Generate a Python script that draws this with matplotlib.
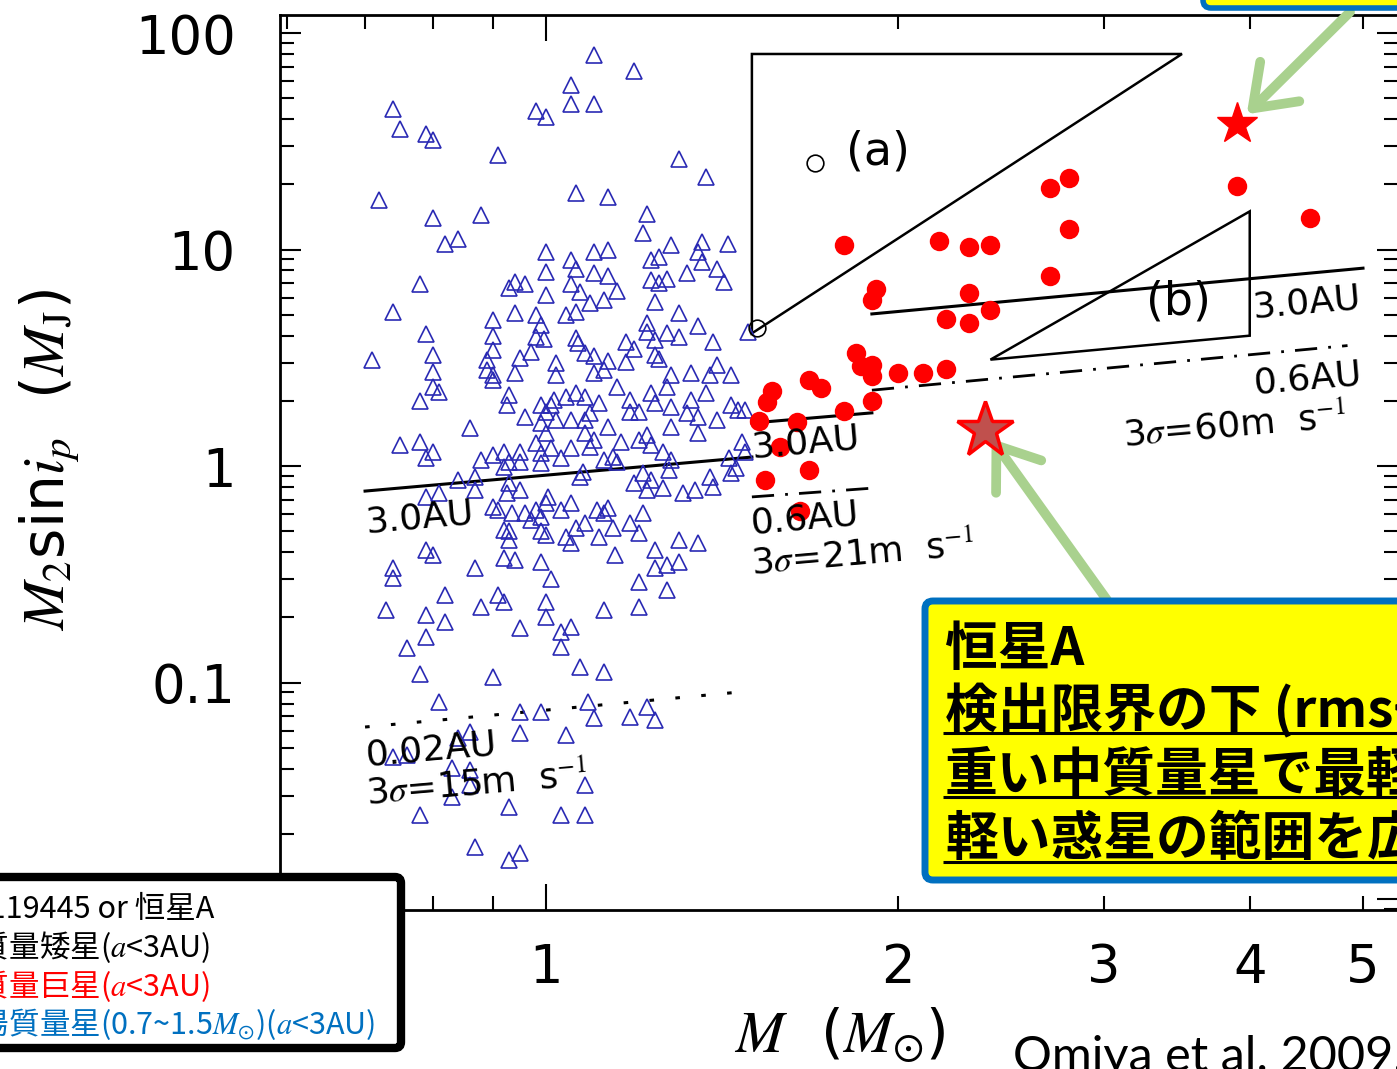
import matplotlib
matplotlib.use('Agg')
import matplotlib.pyplot as plt
from matplotlib.patches import FancyBboxPatch, Polygon
from matplotlib.ticker import FixedLocator, FixedFormatter, LogLocator, NullFormatter

plt.rcParams['font.family'] = ['DejaVu Sans', 'Noto Sans CJK JP']
plt.rcParams['mathtext.fontset'] = 'stix'

# 太陽質量星 (0.7-1.5 Msun), a<3AU : stellar mass [Msun], M2 sin i [MJ]
sun_mass = [
    1.10, 1.19, 1.05, 0.98, 1.00, 1.05, 1.10, 0.74, 0.75, 0.79,
    0.80, 0.91, 1.30, 1.37, 0.72, 1.06, 1.13, 0.80, 0.88, 1.22,
    1.21, 0.82, 0.84, 0.78, 0.74, 0.79, 0.71, 0.80, 0.80, 1.00,
    1.05, 1.10, 1.13, 1.28, 1.36, 1.43, 1.35, 1.23, 1.25, 1.36,
    1.40, 1.42, 1.32, 1.00, 1.06, 1.10, 1.13, 0.94, 0.96, 0.93,
    1.05, 1.07, 1.15, 1.09, 1.12, 1.23, 1.25, 1.27, 1.24, 1.00,
    0.94, 0.98, 0.99, 1.04, 1.06, 0.90, 0.90, 0.90, 0.89, 0.89,
    0.90, 0.94, 0.95, 0.97, 0.98, 0.995, 1.02, 1.02, 1.06, 1.065,
    1.08, 1.10, 1.13, 1.12, 1.10, 1.17, 1.19, 1.17, 1.22, 1.22,
    1.24, 1.27, 1.30, 1.30, 1.35, 1.39, 1.24, 1.25, 1.40, 1.28,
    1.33, 1.38, 1.44, 1.49,
    0.80, 0.81, 0.78, 0.90, 0.75, 0.78, 0.79, 0.80, 0.86, 0.93,
    0.925, 0.96, 0.99, 1.00, 1.01, 1.015, 1.02, 0.99, 1.00, 1.05,
    1.04, 1.06, 1.08, 1.11, 1.09, 1.08, 1.13, 1.15, 1.18, 1.18,
    1.20, 1.24, 1.23, 1.27, 1.28, 1.28, 1.33, 1.32, 1.35, 1.37,
    1.40, 1.44, 1.46, 1.35, 1.47, 1.16, 1.20, 1.22, 1.23, 1.26,
    1.28, 1.275, 1.21, 1.23, 1.19, 1.22, 1.26, 1.31, 1.34, 1.39,
    1.38, 1.44, 1.455, 1.435, 1.08, 1.10, 1.09, 1.12, 1.14, 1.15,
    1.07, 1.075, 1.05, 1.03, 1.01, 0.99, 0.99, 0.98, 0.95, 0.95,
    0.93, 0.92, 0.92, 0.90, 0.88, 0.87, 0.87, 0.84, 0.81, 0.79,
    0.93, 0.95, 0.925, 0.90, 0.91, 0.935, 0.96, 0.98, 0.99, 1.00,
    1.003, 0.97, 0.99, 1.00, 0.93, 0.93, 0.92, 1.03, 1.05, 1.06,
    1.04, 1.05, 1.08, 1.105, 1.13, 1.12, 1.11, 1.14, 1.18, 1.20,
    1.21, 1.24, 1.30, 1.35, 1.24, 1.27, 1.30, 1.20, 1.27, 1.20,
    1.12, 1.145, 0.99, 1.01, 0.94, 0.92, 0.87, 0.82, 0.91, 0.92,
    0.88, 1.00, 1.00, 0.95, 1.03, 1.05, 1.03, 0.79, 0.80, 0.74,
    0.74, 0.73, 0.79, 0.82, 0.79, 0.76, 0.78, 0.90, 1.07, 1.12,
    0.81, 0.95, 0.99, 1.085, 1.10, 1.18, 1.22, 1.24, 0.95, 1.04,
    0.86, 0.84, 0.74, 0.76, 0.83, 0.86, 0.86, 0.83, 1.08, 0.93,
    0.78, 1.03, 1.08, 0.87, 0.93, 0.95, 1.48, 1.48,
]
sun_msini = [
    79.0, 67.0, 57.5, 43.7, 41.0, 47.0, 47.0, 44.6, 36.0, 34.0,
    32.0, 27.3, 26.2, 21.6, 16.9, 18.2, 17.5, 14.0, 14.4, 14.6,
    11.9, 10.6, 11.2, 6.93, 5.14, 4.07, 3.09, 3.26, 2.72, 9.74,
    8.94, 9.74, 9.95, 10.5, 10.8, 10.6, 9.74, 8.94, 9.23, 8.75,
    8.12, 7.08, 7.80, 7.87, 8.12, 7.80, 7.56, 7.08, 6.93, 6.64,
    6.93, 6.37, 6.43, 5.67, 5.85, 7.23, 7.01, 7.31, 5.73, 6.17,
    5.09, 4.98, 4.48, 4.98, 5.14, 4.72, 3.98, 3.43, 3.09, 2.78,
    2.63, 2.69, 3.15, 3.36, 3.94, 3.85, 2.99, 2.63, 3.90, 3.70,
    3.33, 3.22, 3.06, 2.78, 2.69, 3.74, 3.47, 3.02, 4.58, 4.16,
    3.82, 4.11, 5.09, 3.94, 4.43, 3.74, 3.26, 3.12, 2.93, 2.63,
    2.69, 2.63, 2.63, 4.16,
    2.32, 2.20, 1.99, 2.50, 1.25, 1.29, 1.09, 1.16, 1.50, 2.13,
    1.91, 1.68, 1.91, 1.78, 1.91, 2.02, 1.63, 1.58, 1.42, 1.63,
    2.08, 2.17, 2.08, 1.95, 1.76, 1.63, 1.51, 2.32, 2.02, 1.78,
    1.78, 1.95, 2.17, 2.32, 1.87, 1.51, 2.02, 1.76, 1.68, 2.17,
    1.63, 1.91, 1.81, 1.42, 1.29, 1.29, 1.32, 1.39, 1.25, 1.16,
    1.07, 0.958, 0.93, 0.862, 0.835, 0.775, 0.79, 0.75, 0.775, 0.80,
    0.89, 0.93, 0.98, 1.09, 1.42, 1.32, 1.22, 1.07, 1.10, 1.04,
    0.89, 0.94, 1.21, 1.09, 1.21, 1.15, 1.03, 1.28, 1.16, 1.04,
    1.04, 1.16, 0.99, 1.12, 1.07, 0.89, 0.775, 0.862, 0.75, 0.72,
    0.835, 0.775, 0.75, 0.646, 0.626, 0.61, 0.61, 0.626, 0.58, 0.675,
    0.72, 0.563, 0.50, 0.48, 0.50, 0.455, 0.506, 0.626, 0.675, 0.52,
    0.47, 0.44, 0.545, 0.626, 0.64, 0.61, 0.47, 0.52, 0.545, 0.49,
    0.61, 0.41, 0.455, 0.44, 0.338, 0.35, 0.36, 0.29, 0.268, 0.223,
    0.216, 0.39, 0.36, 0.30, 0.368, 0.376, 0.338, 0.254, 0.254, 0.236,
    0.223, 0.236, 0.20, 0.178, 0.171, 0.18, 0.146, 0.409, 0.388, 0.338,
    0.304, 0.216, 0.205, 0.19, 0.162, 0.144, 0.110, 0.106, 0.118, 0.112,
    0.081, 0.073, 0.073, 0.081, 0.0686, 0.0693, 0.077, 0.0671, 0.0585, 0.0573,
    0.059, 0.0555, 0.0454, 0.0465, 0.0403, 0.0394, 0.0336, 0.0297, 0.0336, 0.0266,
    0.0245, 0.0245, 0.0245, 0.0174, 0.0151, 0.0164, 1.81, 1.16,
]

# 中質量巨星, a<3AU
giant_mass = [1.80, 2.17, 2.30, 2.40, 2.70, 2.80, 2.80, 2.70, 1.915, 1.90,
              2.30, 2.40, 2.20, 2.30, 1.84, 1.86, 1.90, 1.90, 2.00, 2.10,
              2.20, 1.68, 1.72, 1.56, 1.545, 1.52, 1.64, 1.80, 1.90, 1.585,
              1.68, 1.54, 1.65, 3.90, 4.50]
giant_msini = [10.5, 10.95, 10.3, 10.5, 19.2, 21.4, 12.4, 7.54, 6.57, 5.85,
               6.30, 5.25, 4.78, 4.58, 3.33, 2.90, 2.93, 2.60, 2.69, 2.69,
               2.81, 2.50, 2.29, 2.22, 1.98, 1.61, 1.60, 1.80, 2.00, 1.22,
               0.958, 0.862, 0.62, 19.65, 14.0]

# 中質量矮星
imdwarf_mass = [1.70, 1.515]
imdwarf_msini = [25.1, 4.34]

# HD119445 / 恒星A
hd_mass, hd_msini = [3.90], [38.0]
starA_mass, starA_msini = [2.375], [1.47]

# regions (a), (b)
tri_a_mass = [1.5, 3.5, 1.5]
tri_a_msini = [80.0, 80.0, 4.1]
tri_b_mass = [2.4, 4.0, 4.0]
tri_b_msini = [3.1, 15.0, 4.0]

# detection limits
lim15_mass = [0.70, 1.50]
lim15_3au = [0.766, 1.10]
lim15_002au = [0.0623, 0.0915]
lim21_mass = [1.50, 1.90]
lim21_3au = [1.58, 1.76]
lim21_06au = [0.72, 0.79]
lim60_mass = [1.90, 5.00]
lim60_3au = [5.04, 8.2]
lim60_mass_06 = [1.90, 4.85]
lim60_06au = [2.24, 3.6]

W, H = 1397, 1069
fig = plt.figure(figsize=(W / 100, H / 100), dpi=100)
ax = fig.add_axes([280 / W, (H - 910) / H, 1118 / W, 895 / H])
ax.set_xscale('log')
ax.set_yscale('log')
ax.set_xlim(0.592, 5.357)
ax.set_ylim(0.0089, 121.1)

# lines
ax.plot(lim15_mass, lim15_3au, color='black', lw=2.2)
ax.plot(lim15_mass, lim15_002au, color='black', lw=2.2, dashes=(1.5, 7))
ax.plot(lim21_mass, lim21_3au, color='black', lw=2.2)
ax.plot(lim21_mass, lim21_06au, color='black', lw=2.0, dashes=(8, 4, 1, 4))
ax.plot(lim60_mass, lim60_3au, color='black', lw=2.2)
ax.plot(lim60_mass_06, lim60_06au, color='black', lw=2.0, dashes=(8, 4, 1, 4))
ax.add_patch(Polygon(list(zip(tri_a_mass, tri_a_msini)), closed=True, fill=False,
                     ec='black', lw=1.8))
ax.add_patch(Polygon(list(zip(tri_b_mass, tri_b_msini)), closed=True, fill=False,
                     ec='black', lw=1.8))

# points
ax.plot(sun_mass, sun_msini, ls='none', marker='^', ms=12, mfc='none',
        mec='#2a2ab4', mew=1.2, zorder=3)
ax.plot(giant_mass, giant_msini, ls='none', marker='o', ms=14, color='#ff0000',
        mec='none', zorder=3)
ax.plot(imdwarf_mass, imdwarf_msini, ls='none', marker='o', ms=12, mfc='none',
        mec='black', mew=1.2, zorder=3)
ax.plot(hd_mass, hd_msini, ls='none', marker='*', ms=31, color='#ff0000', zorder=6)
ax.plot(starA_mass, starA_msini, ls='none', marker='*', ms=42, mfc='#c0504d',
        mec='#ff0000', mew=2.5, zorder=6)

# line labels
lab = dict(fontsize=26, ha='left', va='baseline', rotation=5, rotation_mode='anchor')
ax.text(0.702, 0.495, '3.0AU', **lab)
ax.text(0.702, 0.0416, '0.02AU', **lab)
ax.text(0.702, 0.0275, r'3$\sigma$=15m  s$^{-1}$', **lab)
ax.text(1.50, 1.09, '3.0AU', **lab)
ax.text(1.50, 0.49, '0.6AU', **lab)
ax.text(1.50, 0.32, r'3$\sigma$=21m  s$^{-1}$', **lab)
ax.text(4.03, 4.83, '3.0AU', **lab)
ax.text(4.04, 2.17, '0.6AU', **lab)
ax.text(3.12, 1.25, r'3$\sigma$=60m  s$^{-1}$', **lab)
ax.text(1.923, 28.2, '(a)', fontsize=33, ha='center', va='center')
ax.text(3.473, 5.72, '(b)', fontsize=33, ha='center', va='center')

# arrows
green = '#a9d18e'
for xy, start, shr in [((starA_mass[0], starA_msini[0]), (1107, H - 600), 8),
                       ((hd_mass[0], hd_msini[0]), (1350, H - 12), 10)]:
    ann = ax.annotate('', xy=xy, xytext=start, textcoords='figure pixels',
                      annotation_clip=False, zorder=5,
                      arrowprops=dict(arrowstyle='->,head_length=0.55,head_width=0.4',
                                      mutation_scale=50, color=green, lw=7,
                                      shrinkA=0, shrinkB=shr,
                                      capstyle='round', joinstyle='round'))
    ann.arrow_patch.set_clip_on(False)

# ticks (the 0.01 label sits under the legend box, so it is left blank)
ax.xaxis.set_major_locator(FixedLocator([1]))
ax.xaxis.set_major_formatter(FixedFormatter(['1']))
ax.xaxis.set_minor_locator(FixedLocator([0.6, 0.7, 0.8, 0.9, 2, 3, 4, 5]))
ax.xaxis.set_minor_formatter(FixedFormatter(['', '', '', '', '2', '3', '4', '5']))
ax.yaxis.set_major_locator(FixedLocator([0.01, 0.1, 1, 10, 100]))
ax.yaxis.set_major_formatter(FixedFormatter(['', '0.1', '1', '10', '100']))
ax.yaxis.set_minor_locator(LogLocator(base=10, subs=range(2, 10)))
ax.yaxis.set_minor_formatter(NullFormatter())
ax.tick_params(which='both', direction='in', top=True, right=True, width=1.5,
               labelsize=38)
ax.tick_params(axis='x', which='major', length=19)
ax.tick_params(axis='x', which='minor', length=10)
ax.tick_params(axis='x', which='both', pad=23)
ax.tick_params(axis='y', which='major', length=15)
ax.tick_params(axis='y', which='minor', length=10)
ax.tick_params(axis='y', which='both', pad=32)
for sp in ax.spines.values():
    sp.set_linewidth(2)

# overlay in pixel coordinates
ov = fig.add_axes([0, 0, 1, 1], zorder=10)
ov.set_xlim(0, W)
ov.set_ylim(H, 0)
ov.axis('off')

ov.text(50, 460, r'$M_2$sin$i_p$  ($M_{\rm J}$)', rotation=90, ha='center',
        va='center', fontsize=42)
ov.text(840, 1035, r'$M$  ($M_{\odot}$)', ha='center', va='center', fontsize=42)

# legend box
ov.add_patch(FancyBboxPatch((-40, 877), 441, 171, boxstyle='round,pad=0,rounding_size=6',
                            lw=6, ec='black', fc='white'))
jp = 'Noto Sans CJK JP'
ov.text(214, 918, '★ HD119445 or 恒星A', ha='right', va='baseline', fontsize=22,
        family=[jp, 'DejaVu Sans'], color='black')
ov.text(210, 957, r'○ 中質量矮星($a$<3AU)', ha='right', va='baseline', fontsize=22,
        family=jp, color='black')
ov.text(210, 996, r'● 中質量巨星($a$<3AU)', ha='right', va='baseline', fontsize=22,
        family=jp, color='#ff0000')
ov.text(375, 1034, r'△ 太陽質量星(0.7~1.5$M_{\odot}$)($a$<3AU)', ha='right',
        va='baseline', fontsize=22, family=jp, color='#0070c0')

# yellow note
ov.add_patch(FancyBboxPatch((925, 601), 600, 279, boxstyle='round,pad=0,rounding_size=8',
                            lw=5, ec='#0070c0', fc='#ffff00'))
note = ['恒星A', '検出限界の下 (rms<60m/s)', '重い中質量星で最軽量', '軽い惑星の範囲を広げる']
note_base = [665, 727, 791, 855]
for s, yb in zip(note, note_base):
    ov.text(945, yb, s, fontsize=38, fontweight='bold', family=[jp, 'DejaVu Sans'],
            ha='left', va='baseline', color='black')
for yu in [733, 797, 862]:
    ov.plot([943, 1420], [yu, yu], color='black', lw=2.2, solid_capstyle='butt')

# top note box (cut off)
ov.add_patch(FancyBboxPatch((1203, -80), 400, 88, boxstyle='round,pad=0,rounding_size=8',
                            lw=4, ec='#0070c0', fc='#ffff00'))

ov.text(1013, 1071, 'Omiya et al. 2009.', fontsize=35, family=['Lato', 'DejaVu Sans'],
        ha='left', va='baseline')

fig.savefig('out.png', dpi=100)
